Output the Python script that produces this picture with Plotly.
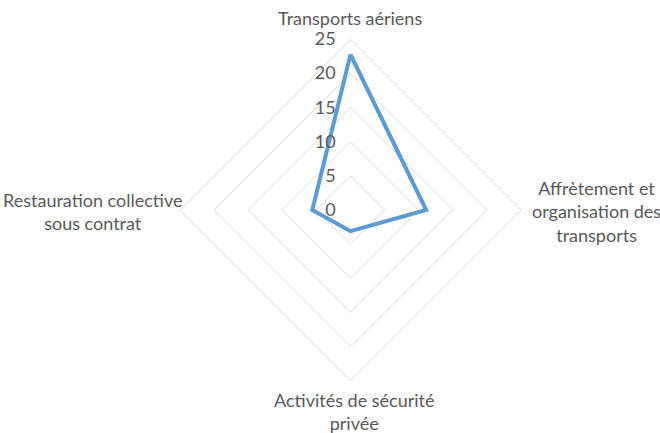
import plotly.graph_objects as go

categories = ["Transports aériens", "Affrètement et organisation des transports",
              "Activités de sécurité privée", "Restauration collective sous contrat"]
label_text = ["Transports aériens", "Affrètement et<br>organisation des<br>transports",
              "Activités de sécurité<br>privée", "Restauration collective<br>sous contrat"]
values = [22.8, 11.1, 3.1, 5.6]
radial_ticks = [0, 5, 10, 15, 20, 25]

W, H = 660, 433
cx, cy, R = 350.5, 210, 170.5

fig = go.Figure()
fig.add_trace(go.Scatterpolar(
    r=values + values[:1],
    theta=categories + categories[:1],
    mode="lines",
    line=dict(color="#5B9BD5", width=4),
    showlegend=False,
    hoverinfo="skip",
))

grid = "#D9D9D9"
txt = "#595959"
font = "Lato"

fig.update_layout(
    width=W, height=H,
    margin=dict(l=0, r=0, t=0, b=0),
    paper_bgcolor="white",
    plot_bgcolor="white",
    font=dict(family=font, color=txt, size=18),
    polar=dict(
        domain=dict(x=[(cx - R) / W, (cx + R) / W], y=[(H - cy - R) / H, (H - cy + R) / H]),
        gridshape="linear",
        bgcolor="white",
        angularaxis=dict(
            direction="clockwise", rotation=90,
            showgrid=False, showline=True, linecolor=grid, linewidth=1,
            showticklabels=False, ticks="",
        ),
        radialaxis=dict(
            range=[0, 25], tickvals=radial_ticks, angle=90, tickangle=90,
            showline=False, gridcolor=grid, gridwidth=1,
            ticks="outside", ticklen=8, tickcolor="rgba(0,0,0,0)",
            side="counterclockwise",
            tickfont=dict(family=font, size=18, color=txt),
        ),
    ),
)

# category labels placed around the chart (Excel-style centered text)
label_pos = [(350, 18), (596, 211), (354, 411), (92, 211)]
for t, (x, y) in zip(label_text, label_pos):
    fig.add_annotation(
        text=t, x=x / W, y=1 - y / H, xref="paper", yref="paper",
        showarrow=False, xanchor="center", yanchor="middle", align="center",
        font=dict(family=font, size=18, color=txt),
    )

fig.write_html("out.html", config={"displayModeBar": False},
               post_script="document.body.style.margin='0';")
